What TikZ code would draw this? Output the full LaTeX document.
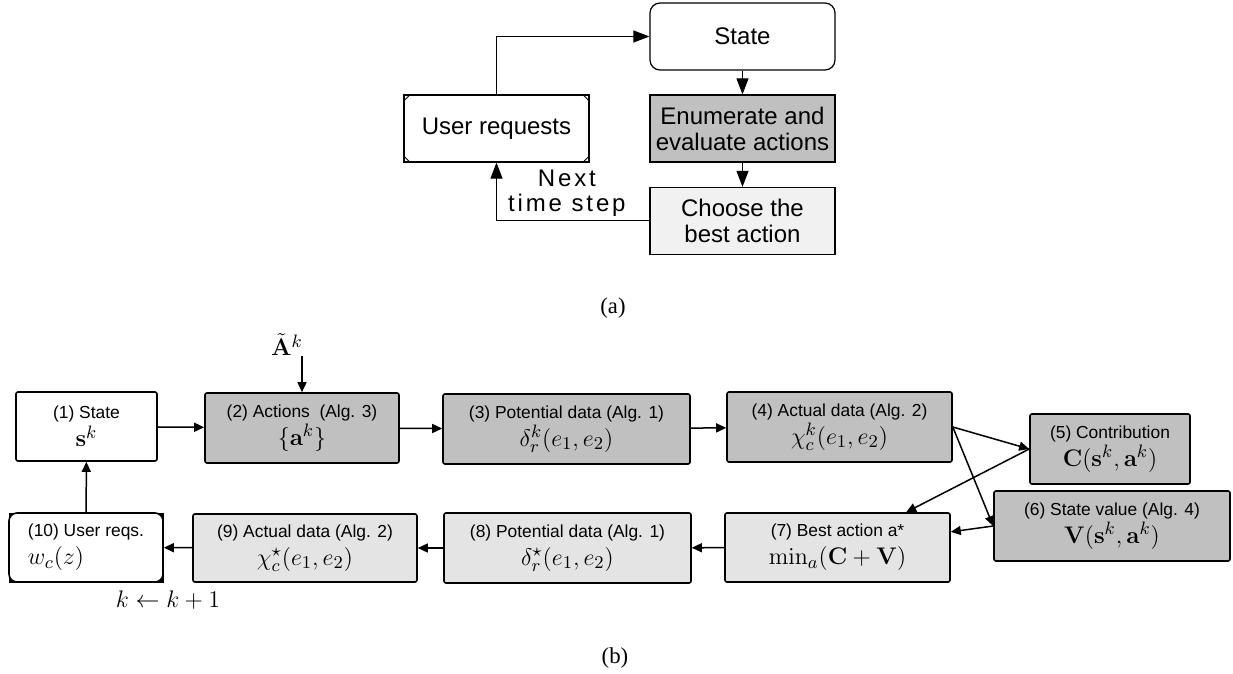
\documentclass[tikz,border=0pt]{standalone}
\usepackage[no-math]{fontspec}
\setmainfont{Liberation Serif}
\setsansfont{Liberation Sans}
\newfontfamily\spacedsans[LetterSpace=12]{Liberation Sans}
\usetikzlibrary{shapes.geometric, arrows, arrows.meta, positioning}

\definecolor{actfill}{RGB}{192,192,192}
\definecolor{bestfill}{RGB}{228,228,228}
\definecolor{choosefill}{RGB}{241,241,241}

\newcommand{\topfont}{\sffamily\fontsize{12}{13}\selectfont}
\newcommand{\boxfont}{\sffamily\fontsize{8.7}{14}\selectfont}
\newcommand{\mathsz}{\fontsize{12.5}{14}\selectfont}

\tikzstyle{statebox} = [rectangle, rounded corners=5pt, minimum width=92.5pt, minimum height=33.5pt, inner sep=1pt, align=center, draw=black, line width=0.6pt, font=\topfont]
\tikzstyle{evalbox} = [rectangle, minimum width=92.5pt, minimum height=33.5pt, inner sep=1pt, align=center, draw=black, line width=0.6pt, fill=actfill, font=\topfont]
\tikzstyle{choosebox} = [evalbox, fill=choosefill]
\tikzstyle{reqbox} = [evalbox, fill=white]
\tikzstyle{plainstep} = [rectangle, rounded corners=1pt, minimum height=35pt, inner sep=2pt, align=center, draw=black, line width=0.8pt, fill=white, font=\boxfont]
\tikzstyle{darkstep} = [plainstep, fill=actfill]
\tikzstyle{lightstep} = [plainstep, fill=bestfill]
\tikzstyle{arrow} = [line width=0.75pt,-{Triangle[length=5pt,width=4.5pt]}]
\tikzstyle{looparrow} = [line width=0.5pt,-{Triangle[length=8pt,width=6pt]}]

\begin{document}
\begin{tikzpicture}[x=0.5pt,y=-0.5pt]
\useasboundingbox (0,0) rectangle (1233,674);

% (a) loop
\node (state) [statebox] at (742.5,36.5) {State};
\node (enum) [evalbox] at (742.5,128.5) {Enumerate and\\evaluate actions};
\node (choose) [choosebox] at (742.5,221) {Choose the\\best action};
\node (user) [reqbox] at (496.5,128.5) {User requests};
\foreach \c/\sx/\sy in {north west/7/7, north east/-7/7, south west/7/-7, south east/-7/-7}
  \draw [line width=0.4pt] ([shift={(\sx,0)}]user.\c) -- ([shift={(0,\sy)}]user.\c);

\draw [looparrow] (user.north) |- (state.west);
\draw [looparrow] (state) -- (enum);
\draw [looparrow] (enum) -- (choose);
\draw [looparrow] (choose.west) -| node (nextlbl) [pos=0.27, above, inner sep=2pt, align=center, font=\spacedsans\fontsize{12}{12.5}\selectfont] {Next\\time step} (user.south);

\node (capa) at (613,308) {\fontsize{11.3}{13}\selectfont (a)};

% (b) steps
\node (n1) [plainstep, minimum width=70.5pt, minimum height=34.5pt] at (86.5,426.5) {(1) State\\{\mathsz $\mathbf{s}^k$}};
\node (n2) [darkstep, minimum width=97pt] at (302,428) {(2) Actions~ (Alg. 3)\\{\mathsz $\{\mathbf{a}^k\}$}};
\node (n3) [darkstep, minimum width=123.5pt] at (566.5,429) {(3) Potential data (Alg. 1)\\{\mathsz $\delta_r^k(e_1,e_2)$}};
\node (n4) [darkstep, minimum width=112.5pt] at (839.5,427) {(4) Actual data (Alg. 2)\\{\mathsz $\chi_c^k(e_1,e_2)$}};
\node (n5) [darkstep, minimum width=80pt] at (1110,449) {(5) Contribution\\{\mathsz $\mathbf{C}(\mathbf{s}^k,\mathbf{a}^k)$}};
\node (n6) [darkstep, minimum width=118pt] at (1112,526) {(6) State value (Alg. 4)\\{\mathsz $\mathbf{V}(\mathbf{s}^k,\mathbf{a}^k)$}};
\node (n7) [lightstep, minimum width=112.5pt, minimum height=34.5pt] at (837.5,547.5) {(7) Best action a*\\{\mathsz $\min_a(\mathbf{C}+\mathbf{V})$}};
\node (n8) [lightstep, minimum width=123.5pt] at (567.5,548) {(8) Potential data (Alg. 1)\\{\mathsz $\delta_r^\star(e_1,e_2)$}};
\node (n9) [lightstep, minimum width=112pt, minimum height=34pt] at (305,548) {(9) Actual data (Alg. 2)\\{\mathsz $\chi_c^\star(e_1,e_2)$}};
\node (n10bg) [rectangle, fill=black, minimum width=77.5pt, minimum height=35pt, inner sep=0pt] at (86,547.5) {};
\node (n10) [plainstep, rounded corners=4pt, align=left, minimum width=77pt, minimum height=34.5pt] at (86,547.5) {(10) User reqs.\\{\mathsz $w_c(z)$}};

\coordinate (ain) at ([yshift=18pt]n2.north);
\node (atil) [above=0pt of ain, xshift=-7.5pt, inner sep=0pt] {\mathsz $\tilde{\mathbf{A}}^k$};
\node (kinc) at (168,600) {\fontsize{13}{15}\selectfont $k \leftarrow k+1$};

\draw [arrow] (ain) -- (n2.north);
\draw [arrow] (n1) -- (n2);
\draw [arrow] (n2) -- (n3);
\draw [arrow] (n3) -- (n4);
\draw [arrow] (n4.east) -- (n5.west);
\draw [arrow] (n4.east) -- (n6.west);
\draw [arrow] (n5.west) -- (n7);
\draw [arrow] (n6.west) -- (n7);
\draw [arrow] (n7) -- (n8);
\draw [arrow] (n8) -- (n9);
\draw [arrow] (n9) -- (n10);
\draw [arrow] (n10) -- (n1);

\node (capb) at (615,658) {\fontsize{11.4}{13}\selectfont (b)};
\end{tikzpicture}
\end{document}
